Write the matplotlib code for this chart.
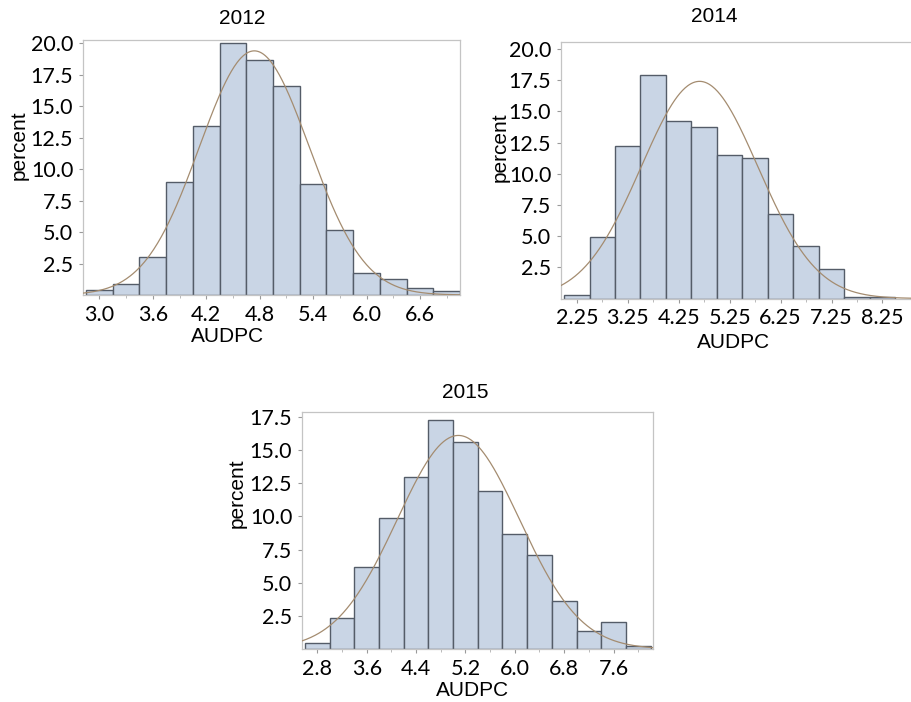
import numpy as np
import matplotlib
matplotlib.use("Agg")
import matplotlib.pyplot as plt
from matplotlib.ticker import FixedLocator

# ---------------- data ----------------
mid_2012 = [3.0, 3.3, 3.6, 3.9, 4.2, 4.5, 4.8, 5.1, 5.4, 5.7, 6.0, 6.3, 6.6, 6.9]
pct_2012 = [0.37, 0.9, 3.0, 9.0, 13.45, 20.0, 18.7, 16.6, 8.85, 5.15, 1.77, 1.25, 0.53, 0.34]
width_2012 = 0.3
mu_2012, sd_2012 = 4.74, 0.617
xt_2012 = [3.0, 3.6, 4.2, 4.8, 5.4, 6.0, 6.6]
xtl_2012 = ["3.0", "3.6", "4.2", "4.8", "5.4", "6.0", "6.6"]

mid_2014 = [2.25, 2.75, 3.25, 3.75, 4.25, 4.75, 5.25, 5.75, 6.25, 6.75, 7.25, 7.75, 8.25]
pct_2014 = [0.3, 4.9, 12.2, 17.9, 14.25, 13.75, 11.5, 11.3, 6.8, 4.2, 2.4, 0.12, 0.12]
width_2014 = 0.5
mu_2014, sd_2014 = 4.66, 1.146
xt_2014 = [2.25, 3.25, 4.25, 5.25, 6.25, 7.25, 8.25]
xtl_2014 = ["2.25", "3.25", "4.25", "5.25", "6.25", "7.25", "8.25"]

mid_2015 = [2.8, 3.2, 3.6, 4.0, 4.4, 4.8, 5.2, 5.6, 6.0, 6.4, 6.8, 7.2, 7.6, 8.0]
pct_2015 = [0.45, 2.35, 6.2, 9.85, 13.0, 17.3, 15.6, 11.95, 8.65, 7.05, 3.6, 1.35, 2.05, 0.25]
width_2015 = 0.4
mu_2015, sd_2015 = 5.085, 0.991
xt_2015 = [2.8, 3.6, 4.4, 5.2, 6.0, 6.8, 7.6]
xtl_2015 = ["2.8", "3.6", "4.4", "5.2", "6.0", "6.8", "7.6"]

yt_full = [2.5, 5.0, 7.5, 10.0, 12.5, 15.0, 17.5, 20.0]
ytl_full = ["2.5", "5.0", "7.5", "10.0", "12.5", "15.0", "17.5", "20.0"]
yt_2015 = [2.5, 5.0, 7.5, 10.0, 12.5, 15.0, 17.5]
ytl_2015 = ["2.5", "5.0", "7.5", "10.0", "12.5", "15.0", "17.5"]

# ---------------- style ----------------
W, H = 912, 702
BAR_FC = "#c9d5e5"
BAR_EC = "#545c68"
CURVE = "#a48c70"
SPINE = "#c4c4c4"
TICKFONT = "Lato"
LABFONT = "Liberation Sans"

fig = plt.figure(figsize=(W / 100, H / 100), dpi=100)


def px_axes(left, top, right, bottom):
    return fig.add_axes([left / W, 1 - bottom / H, (right - left) / W, (bottom - top) / H])


def panel(ax, mids, pcts, width, mu, sd, xlim, ylim, xt, xtl, yt, ytl):
    ax.bar(mids, pcts, width=width, color=BAR_FC, edgecolor=BAR_EC, linewidth=1.0,
           align="center", zorder=2)
    xs = np.linspace(xlim[0], xlim[1], 400)
    ys = 100 * width * np.exp(-0.5 * ((xs - mu) / sd) ** 2) / (sd * np.sqrt(2 * np.pi))
    ax.plot(xs, ys, color=CURVE, lw=0.9, zorder=3)
    ax.set_xlim(*xlim)
    ax.set_ylim(*ylim)
    ax.set_xticks(xt)
    ax.set_xticklabels(xtl)
    ax.set_yticks(yt)
    ax.set_yticklabels(ytl)
    minors = [m for m in mids if all(abs(m - t) > 1e-6 for t in xt)]
    ax.xaxis.set_minor_locator(FixedLocator(minors))
    for s in ax.spines.values():
        s.set_color(SPINE)
        s.set_linewidth(0.9)
    ax.tick_params(axis="both", which="major", length=3, width=0.8, color="#9a9a9a",
                   pad=4, labelsize=15.5, labelcolor="black")
    ax.tick_params(axis="x", which="minor", length=2, width=0.6, color="#b0b0b0")
    for lab in ax.get_xticklabels() + ax.get_yticklabels():
        lab.set_fontfamily(TICKFONT)
    ax.set_facecolor("white")


ax1 = px_axes(83, 40, 460, 295)
panel(ax1, mid_2012, pct_2012, width_2012, mu_2012, sd_2012, (2.816, 7.05), (0, 20.26),
      xt_2012, xtl_2012, yt_full, ytl_full)

ax2 = px_axes(561, 41.5, 912, 298.5)
panel(ax2, mid_2014, pct_2014, width_2014, mu_2014, sd_2014, (1.94, 8.83), (0, 20.6),
      xt_2014, xtl_2014, yt_full, ytl_full)

ax3 = px_axes(302, 412, 653, 649)
panel(ax3, mid_2015, pct_2015, width_2015, mu_2015, sd_2015, (2.55, 8.24), (0, 17.87),
      xt_2015, xtl_2015, yt_2015, ytl_2015)


def ftext(x, y, s, rot=0):
    fig.text(x / W, 1 - y / H, s, ha="center", va="center", rotation=rot,
             fontsize=15, family=LABFONT, color="black")


ftext(242, 18, "2012")
ftext(714, 17, "2014")
ftext(465, 393, "2015")
ftext(228, 336, "AUDPC")
ftext(734, 342, "AUDPC")
ftext(473, 690, "AUDPC")
ftext(19, 145, "percent", rot=90)
ftext(500, 147, "percent", rot=90)
ftext(237, 493, "percent", rot=90)

fig.savefig("out.png", dpi=100, facecolor="white")
